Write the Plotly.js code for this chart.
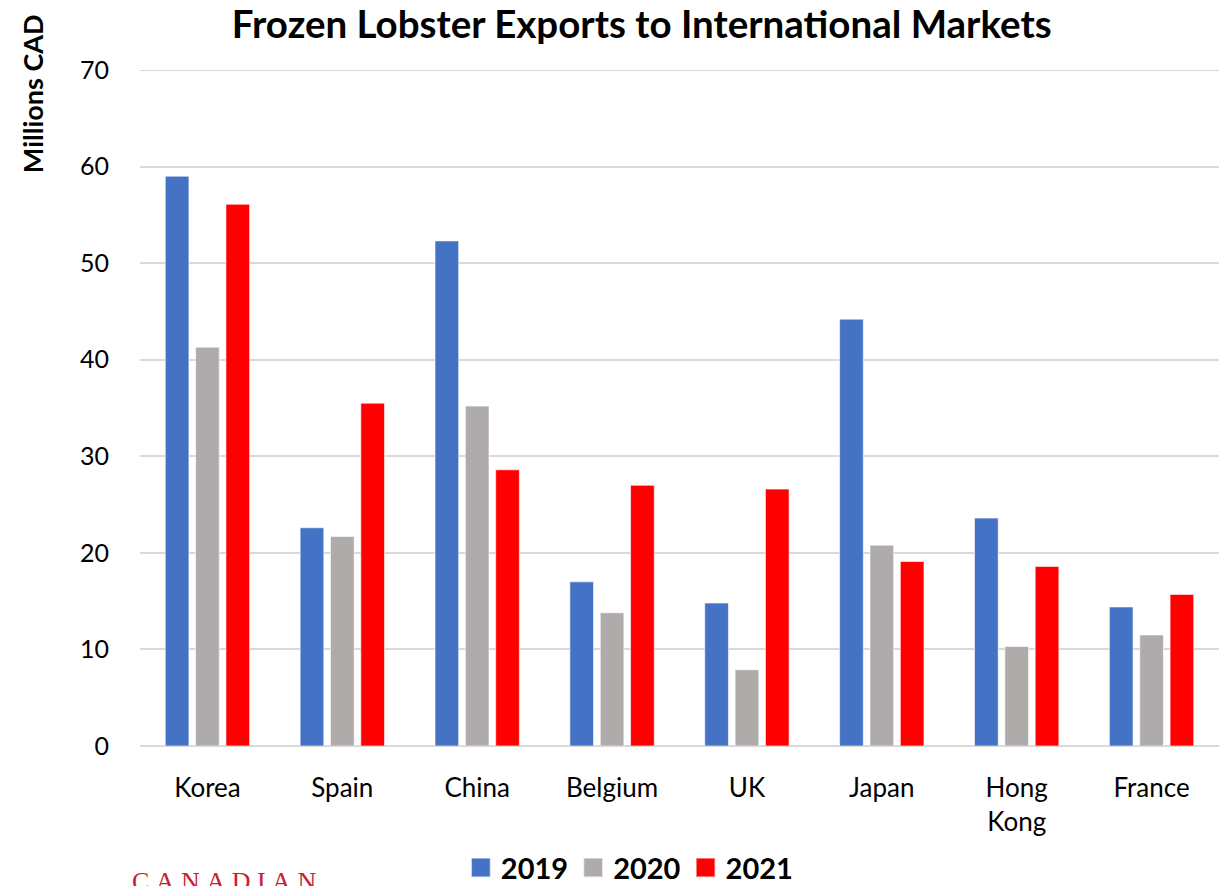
<!DOCTYPE html>
<html>
<head>
<meta charset="utf-8">
<script src="https://cdn.plot.ly/plotly-3.0.1.min.js"></script>
<style>html,body{margin:0;padding:0;background:#fff;}#chart{width:1219px;height:886px;}</style>
</head>
<body>
<div id="chart"></div>
<script>
const categories = ["Korea", "Spain", "China", "Belgium", "UK", "Japan", "Hong<br>Kong", "France"];
const values2019 = [59.0, 22.6, 52.3, 17.0, 14.8, 44.2, 23.6, 14.4];
const values2020 = [41.3, 21.7, 35.2, 13.8, 7.9, 20.8, 10.3, 11.5];
const values2021 = [56.1, 35.5, 28.6, 27.0, 26.6, 19.1, 18.6, 15.7];
const seriesNames = ["2019", "2020", "2021"];
const yTicks = [0, 10, 20, 30, 40, 50, 60, 70];

const colors = ["#4472C4", "#AFABAB", "#FF0000"];
const FONT = "Lato, 'Open Sans', sans-serif";

const traces = [values2019, values2020, values2021].map((vals, i) => ({
  type: "bar",
  name: "<b>" + seriesNames[i] + "</b>",
  x: categories,
  y: vals,
  marker: {color: colors[i], line: {color: "rgba(255,255,255,0.6)", width: 1}},
  hoverinfo: "x+y"
}));

const layout = {
  width: 1219,
  height: 886,
  paper_bgcolor: "#fff",
  plot_bgcolor: "#fff",
  margin: {l: 140, r: 0, t: 70, b: 140, autoexpand: false},
  font: {family: FONT, color: "#000", size: 24},
  title: {
    text: "<b>Frozen Lobster Exports to International Markets</b>",
    font: {family: FONT, size: 38.5, color: "#000"},
    x: 0.465, xanchor: "center", xref: "paper",
    y: 0.972, yanchor: "middle"
  },
  barmode: "group",
  bargap: 0.325,
  bargroupgap: 0.22,
  xaxis: {
    tickfont: {family: FONT, size: 26, color: "#000"},
    showgrid: false,
    showline: false,
    ticks: "",
    ticklabelstandoff: 24
  },
  yaxis: {
    range: [0, 70],
    tickvals: yTicks,
    ticktext: yTicks.map(String),
    tickfont: {family: FONT, size: 25, color: "#000"},
    showgrid: true,
    gridcolor: "#D9D9D9",
    gridwidth: 2,
    zeroline: true,
    zerolinecolor: "#D9D9D9",
    zerolinewidth: 2,
    showline: false,
    ticks: "",
    ticklabelstandoff: 30
  },
  shapes: [
    {type: "line", xref: "paper", yref: "y", x0: 0, x1: 1, y0: 70, y1: 70,
     line: {color: "#D9D9D9", width: 2}, layer: "below"}
  ],
  showlegend: true,
  legend: {
    orientation: "h",
    x: 0.454, xanchor: "center",
    y: -0.18, yanchor: "middle",
    font: {family: FONT, size: 29, color: "#000"},
    itemwidth: 30,
    traceorder: "normal"
  },
  annotations: [
    {
      text: "<b>Millions CAD</b>",
      textangle: -90,
      xref: "paper", yref: "paper",
      x: -0.1, xanchor: "center",
      y: 1.085, yanchor: "top",
      showarrow: false,
      font: {family: FONT, size: 27, color: "#000"}
    },
    {
      text: "<span style='letter-spacing:6.5px'>CANADIAN</span>",
      xref: "paper", yref: "paper",
      x: -0.009, xanchor: "left",
      y: -0.201, yanchor: "middle",
      showarrow: false,
      font: {family: "'Liberation Serif', serif", size: 26, color: "#C8202F"}
    }
  ]
};

Plotly.newPlot("chart", traces, layout, {displayModeBar: false, staticPlot: true}).then(() => {
  document.querySelectorAll(".legendpoints path").forEach(p => {
    const t = p.getAttribute("transform") || "";
    p.setAttribute("transform", t + " scale(1.6)");
  });
});
</script>
</body>
</html>
